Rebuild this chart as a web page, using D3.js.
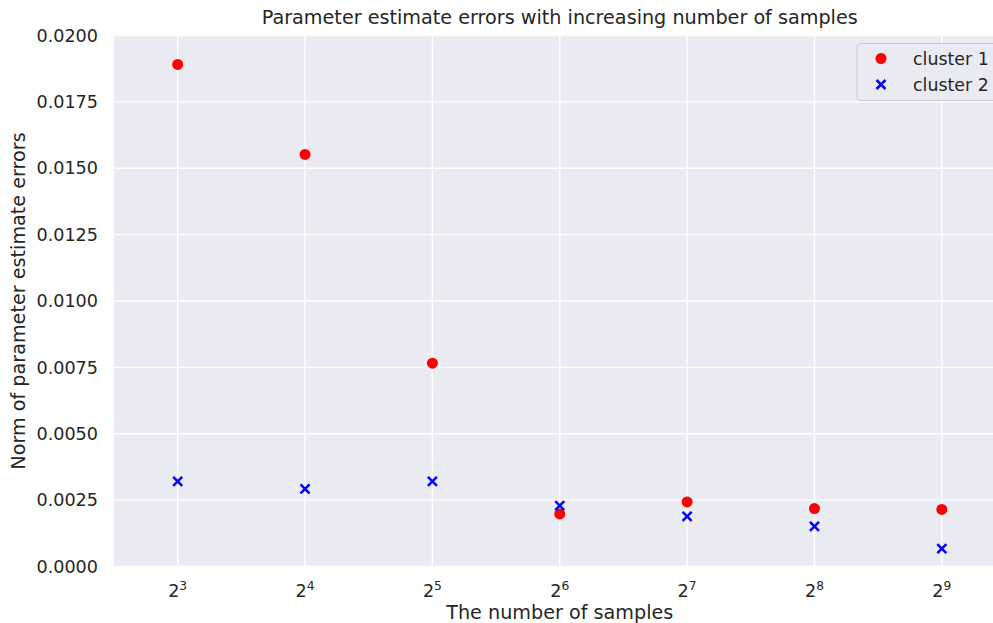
<!DOCTYPE html>
<html><head><meta charset="utf-8">
<script src="https://cdn.jsdelivr.net/npm/d3@7"></script>
<style>body{margin:0;background:#fff}svg{display:block}text{font-family:"DejaVu Sans",sans-serif;fill:#262626}</style>
</head><body>
<script>
const exponents = [3,4,5,6,7,8,9];
const cluster1 = [0.01891,0.01552,0.00766,0.00198,0.00243,0.00218,0.00215];
const cluster2 = [0.00321,0.00292,0.00321,0.00229,0.00189,0.00151,0.00067];
const yTicks = [0,0.0025,0.005,0.0075,0.01,0.0125,0.015,0.0175,0.02];
const seriesNames = ["cluster 1","cluster 2"];

(function(){
const W=993,H=623;
const svg=d3.select("body").append("svg").attr("width",W).attr("height",H);
const pL=114, pR=1005.5, pT=35.5, pB=566.5;
const x=d3.scaleLog().base(2).domain([Math.pow(2,2.5),Math.pow(2,9.5)]).range([pL,pR]);
const y=d3.scaleLinear().domain([0,0.02]).range([pB,pT]);

svg.append("rect").attr("x",pL).attr("y",pT).attr("width",pR-pL).attr("height",pB-pT).attr("fill","#EAEAF2");
const g=svg.append("g");
g.selectAll(".gy").data(yTicks).join("line").attr("x1",pL).attr("x2",pR).attr("y1",d=>y(d)).attr("y2",d=>y(d)).attr("stroke","#fff").attr("stroke-width",1.4);
g.selectAll(".gx").data(exponents).join("line").attr("y1",pT).attr("y2",pB).attr("x1",d=>x(Math.pow(2,d))).attr("x2",d=>x(Math.pow(2,d))).attr("stroke","#fff").attr("stroke-width",1.4);

svg.selectAll(".yt").data(yTicks).join("text").attr("x",pL-16).attr("y",d=>y(d)).attr("dy","0.35em").attr("text-anchor","end").attr("font-size",17.6).text(d=>d.toFixed(4));
const xt=svg.selectAll(".xt").data(exponents).join("text").attr("x",d=>x(Math.pow(2,d))).attr("y",597).attr("text-anchor","middle").attr("font-size",17.6);
xt.append("tspan").text("2");
xt.append("tspan").attr("font-size",12.3).attr("dy",-7.5).text(d=>d);

svg.append("text").attr("x",(pL+pR)/2).attr("y",24).attr("text-anchor","middle").attr("font-size",19.2).text("Parameter estimate errors with increasing number of samples");
svg.append("text").attr("x",(pL+pR)/2).attr("y",619).attr("text-anchor","middle").attr("font-size",19.2).text("The number of samples");
svg.append("text").attr("transform",`translate(25,${(pT+pB)/2}) rotate(-90)`).attr("text-anchor","middle").attr("font-size",19.2).text("Norm of parameter estimate errors");

svg.selectAll(".c1").data(exponents).join("circle").attr("cx",d=>x(Math.pow(2,d))).attr("cy",(d,i)=>y(cluster1[i])).attr("r",5.5).attr("fill","red");
const s=4.5;
svg.selectAll(".c2").data(exponents).join("path")
 .attr("d",(d,i)=>{const cx=x(Math.pow(2,d)),cy=y(cluster2[i]);return `M${cx-s},${cy-s}L${cx+s},${cy+s}M${cx-s},${cy+s}L${cx+s},${cy-s}`;})
 .attr("stroke","blue").attr("stroke-width",2.5).attr("fill","none");

const lg=svg.append("g");
lg.append("rect").attr("x",857).attr("y",43.5).attr("width",160).attr("height",57).attr("rx",4).attr("fill","#EAEAF2").attr("fill-opacity",0.85).attr("stroke","#cccccc").attr("stroke-width",1);
lg.append("circle").attr("cx",881).attr("cy",58.5).attr("r",5.5).attr("fill","red");
lg.append("path").attr("d",`M${881-s},${84.5-s}L${881+s},${84.5+s}M${881-s},${84.5+s}L${881+s},${84.5-s}`).attr("stroke","blue").attr("stroke-width",2.5);
lg.selectAll(".lt").data(seriesNames).join("text").attr("x",913).attr("y",(d,i)=>58.5+i*26).attr("dy","0.35em").attr("font-size",17.4).text(d=>d);
})();
</script>
</body></html>
